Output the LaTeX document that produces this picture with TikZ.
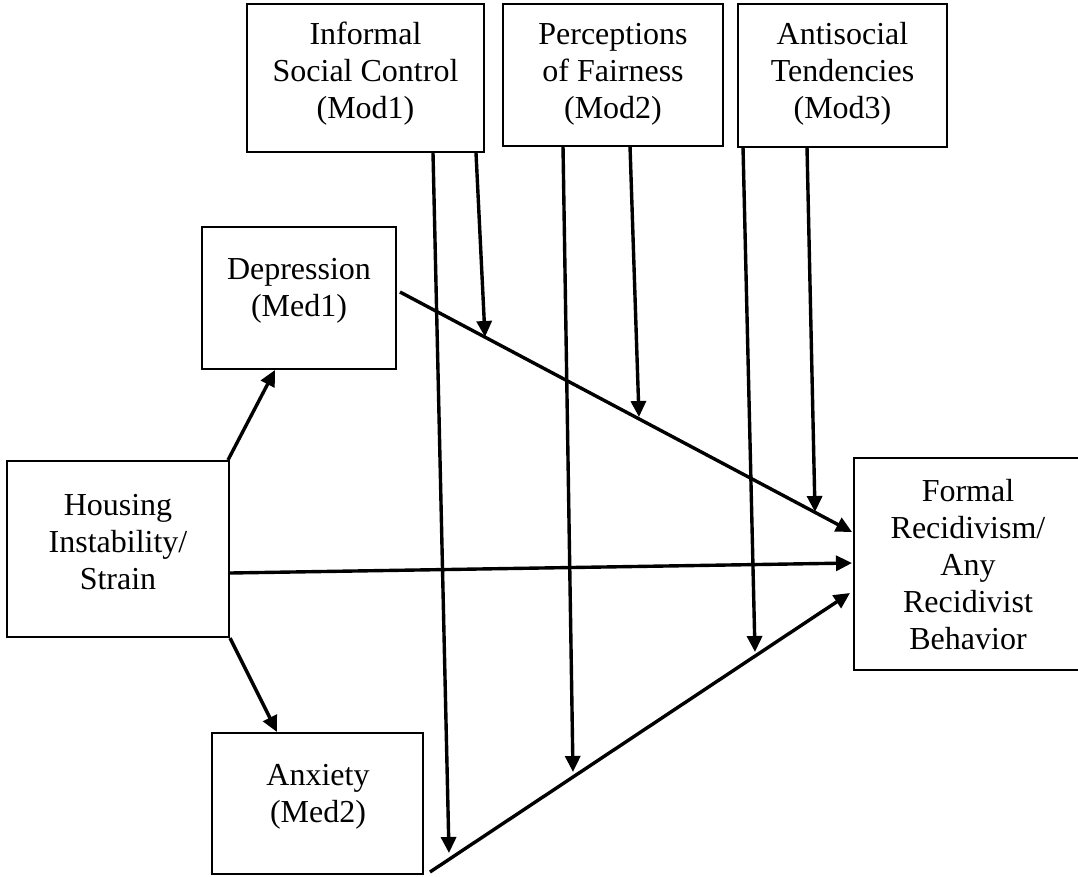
\documentclass[tikz,border=0pt]{standalone}
\usepackage{fontspec}
\setmainfont{Liberation Serif}
\usetikzlibrary{arrows.meta}
\begin{document}
\begin{tikzpicture}[x=1pt,y=-1pt,
  box/.style={draw, line width=2.9pt, inner sep=0pt, fill=none},
  lbl/.style={align=center, inner sep=0pt, font=\fontsize{32}{37}\selectfont},
  conn/.style={line width=3.4pt, -{Triangle[length=16pt,width=15pt]}}]
\useasboundingbox (0,0) rectangle (1078,876);
\clip (0,0) rectangle (1078,876);
\fill[white] (0,0) rectangle (1078,876);
% boxes
\node[box, minimum width=237pt, minimum height=148pt] (mod1) at (365.5,78) {};
\node[box, minimum width=220pt, minimum height=142pt] (mod2) at (613,75) {};
\node[box, minimum width=209pt, minimum height=143pt] (mod3) at (842.5,75.5) {};
\node[box, minimum width=194pt, minimum height=142pt] (dep) at (299,298) {};
\node[box, minimum width=222pt, minimum height=176pt] (hous) at (118,549) {};
\node[box, minimum width=211pt, minimum height=141pt] (anx) at (317.5,803.5) {};
\node[box, minimum width=228pt, minimum height=212pt] (form) at (968,564) {};
% labels
\node[lbl] (mod1t) at (365.5,74) {Informal\\Social Control\\(Mod1)};
\node[lbl] (mod2t) at (613,74) {Perceptions\\of Fairness\\(Mod2)};
\node[lbl] (mod3t) at (842.5,74) {Antisocial\\Tendencies\\(Mod3)};
\node[lbl] (dept) at (299,291) {Depression\\(Med1)};
\node[lbl] (houst) at (118,542) {Housing\\Instability/\\Strain};
\node[lbl] (anxt) at (318,797) {Anxiety\\(Med2)};
\node[lbl] (formt) at (968,565) {Formal\\Recidivism/\\Any\\Recidivist\\Behavior};
% connector end points
\coordinate (hA) at (228,460);
\coordinate (depIn) at (275,370);
\coordinate (hB) at (230,638);
\coordinate (anxIn) at (277,732);
\coordinate (hC) at (230,573);
\coordinate (formC) at (852,563);
\coordinate (depOut) at (400,292);
\coordinate (formA) at (852,532);
\coordinate (anxOut) at (430,872);
\coordinate (formB) at (850,593);
\coordinate (m1a) at (433,153);
\coordinate (m1aT) at (449,853);
\coordinate (m1b) at (476,153);
\coordinate (m1bT) at (485,337);
\coordinate (m2a) at (563,146);
\coordinate (m2aT) at (573,772);
\coordinate (m2b) at (630,146);
\coordinate (m2bT) at (639,417);
\coordinate (m3a) at (743,147);
\coordinate (m3aT) at (755,652);
\coordinate (m3b) at (807,147);
\coordinate (m3bT) at (815,512);
% connectors
\draw[conn] (hA) -- (depIn);
\draw[conn] (hB) -- (anxIn);
\draw[conn] (hC) -- (formC);
\draw[conn] (depOut) -- (formA);
\draw[conn] (anxOut) -- (formB);
\draw[conn] (m1a) -- (m1aT);
\draw[conn] (m1b) -- (m1bT);
\draw[conn] (m2a) -- (m2aT);
\draw[conn] (m2b) -- (m2bT);
\draw[conn] (m3a) -- (m3aT);
\draw[conn] (m3b) -- (m3bT);
\end{tikzpicture}
\end{document}
